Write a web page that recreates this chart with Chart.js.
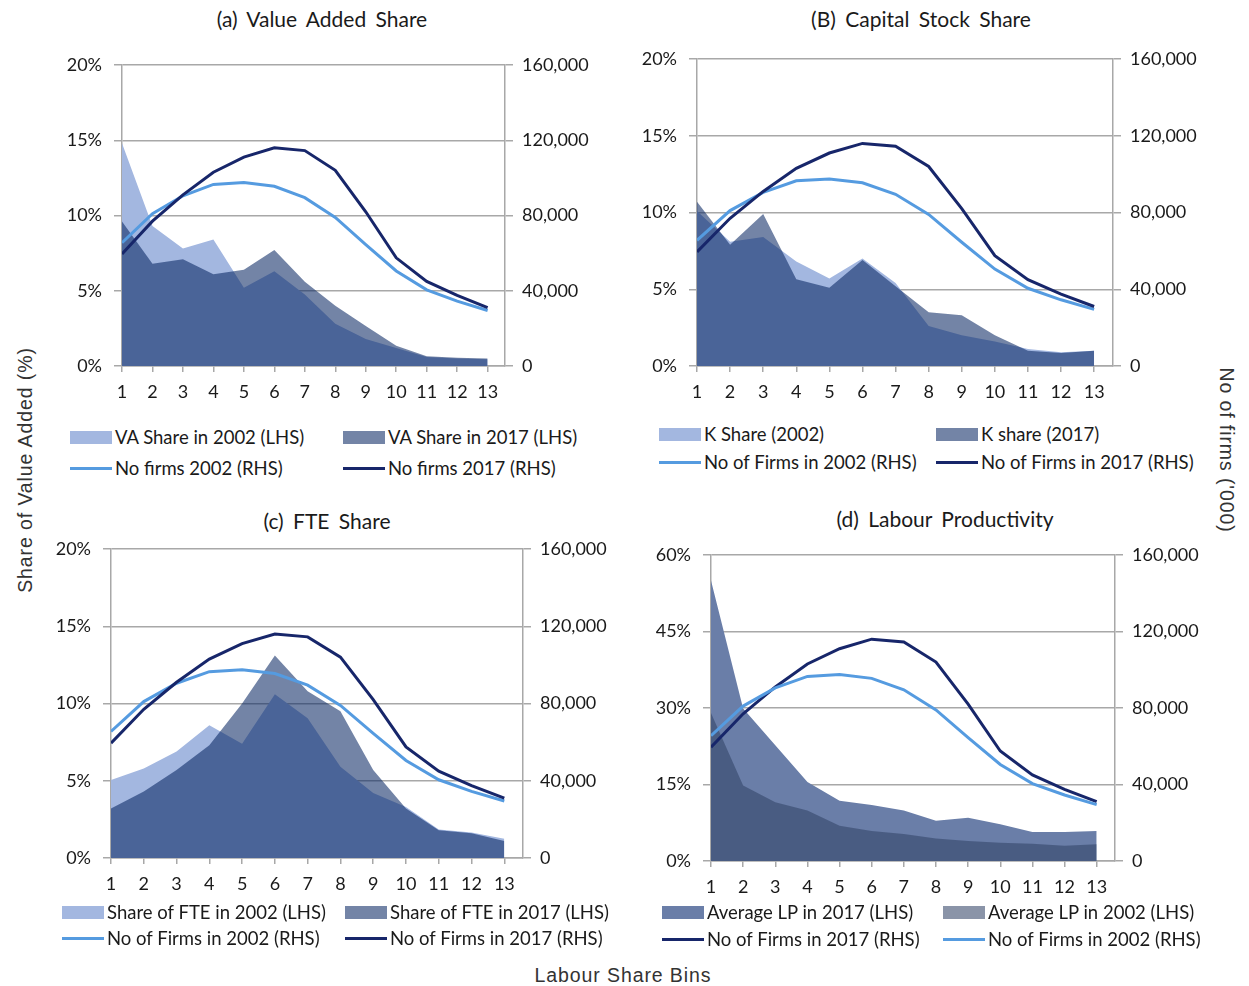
<!DOCTYPE html>
<html>
<head>
<meta charset="utf-8">
<script src="https://cdn.jsdelivr.net/npm/chart.js@4.4.1/dist/chart.umd.min.js"></script>
<style>
  body { margin: 0; background: #fff; }
  #page { position: relative; width: 1249px; height: 986px; overflow: hidden; font-family: Lato, "Open Sans", sans-serif; color: #1a1a1a; }
  .wrap { position: absolute; }
  .title { position: absolute; font-size: 21px; word-spacing: 4px; transform: translate(-50%, -50%); white-space: nowrap; }
  .leg { position: absolute; font-size: 18.5px; white-space: nowrap; transform: translateY(-50%); display: flex; align-items: center; }
  .sw { display: inline-block; width: 42px; margin-right: 3px; }
  .outer { position: absolute; font-family: "Liberation Sans", Arial, sans-serif; font-size: 19.5px; letter-spacing: 0.9px; color: #333; white-space: nowrap; }
</style>
</head>
<body>
<div id="page">
  <div class="outer" style="left:25px; top:470px; transform: translate(-50%,-50%) rotate(-90deg);">Share of Value Added (%)</div>
  <div class="outer" style="left:1226px; top:450px; transform: translate(-50%,-50%) rotate(90deg);">No of firms ('000)</div>
  <div class="outer" style="left:623px; top:975px; transform: translate(-50%,-50%);">Labour Share Bins</div>
</div>
<script>
// Labour share bins
const bins = [1, 2, 3, 4, 5, 6, 7, 8, 9, 10, 11, 12, 13];

// number of firms (RHS), same in every panel
const firms2002 = [65500, 81000, 90500, 96500, 97500, 95500, 89500, 79000, 64500, 50500, 40500, 34500, 29500];
const firms2017 = [59500, 77000, 91000, 103000, 111000, 116000, 114500, 104000, 82000, 57500, 45000, 37500, 31000];

// shares (LHS, %)
const vaShare2002 = [14.8, 9.3, 7.8, 8.4, 5.2, 6.3, 4.75, 2.8, 1.8, 1.2, 0.6, 0.5, 0.45];
const vaShare2017 = [9.6, 6.8, 7.1, 6.1, 6.4, 7.7, 5.6, 4.0, 2.65, 1.35, 0.65, 0.55, 0.5];
const kShare2002 = [10.1, 8.1, 8.4, 6.8, 5.7, 7.0, 5.4, 2.6, 2.0, 1.6, 1.1, 0.9, 1.0];
const kShare2017 = [10.7, 7.9, 9.9, 5.65, 5.1, 6.9, 5.2, 3.5, 3.3, 2.0, 1.0, 0.85, 1.0];
const fteShare2002 = [5.05, 5.8, 6.9, 8.6, 7.4, 10.6, 9.05, 5.9, 4.2, 3.3, 1.85, 1.65, 1.25];
const fteShare2017 = [3.2, 4.3, 5.7, 7.3, 10.0, 13.1, 10.8, 9.5, 5.7, 3.2, 1.8, 1.6, 1.1];
const lp2017 = [55, 29.9, 22.7, 15.5, 11.8, 11.0, 9.9, 7.9, 8.5, 7.2, 5.7, 5.7, 5.9];
const lp2002 = [29, 14.8, 11.5, 9.9, 6.9, 5.9, 5.3, 4.4, 3.9, 3.6, 3.4, 3.0, 3.3];

// tick values
const shareTicks = [0, 5, 10, 15, 20];
const lpTicks = [0, 15, 30, 45, 60];
const firmTicks = [0, 40000, 80000, 120000, 160000];

const LIGHT_AREA = '#a3b7e0';
const DARK_AREA = 'rgba(5,36,96,0.56)';
const LP17_AREA = '#6a7ea8';
const LP02_AREA = 'rgba(49,67,102,0.57)';
const LINE02 = '#559be0';
const LINE17 = '#17266a';
const GRID = '#a8a8a8';

const panels = [
  { title: '(a) Value Added Share', tpos: [322, 18], area: { L: 122, R: 505, T: 65, B: 366 },
    lhsTicks: shareTicks, legend: [70, 343, 437, 468],
    bottom: { label: 'VA Share in 2002 (LHS)', data: vaShare2002, color: LIGHT_AREA },
    top: { label: 'VA Share in 2017 (LHS)', data: vaShare2017, color: DARK_AREA },
    lineA: { label: 'No firms 2002 (RHS)', data: firms2002, color: LINE02 },
    lineB: { label: 'No firms 2017 (RHS)', data: firms2017, color: LINE17 } },
  { title: '(B) Capital Stock Share', tpos: [921, 18], area: { L: 697, R: 1113, T: 59, B: 366 },
    lhsTicks: shareTicks, legend: [659, 936, 434, 462],
    bottom: { label: 'K Share (2002)', data: kShare2002, color: LIGHT_AREA },
    top: { label: 'K share (2017)', data: kShare2017, color: DARK_AREA },
    lineA: { label: 'No of Firms in 2002 (RHS)', data: firms2002, color: LINE02 },
    lineB: { label: 'No of Firms in 2017 (RHS)', data: firms2017, color: LINE17 } },
  { title: '(c) FTE Share', tpos: [327, 520], area: { L: 111, R: 523, T: 549, B: 858 },
    lhsTicks: shareTicks, legend: [62, 345, 912, 938],
    bottom: { label: 'Share of FTE in 2002 (LHS)', data: fteShare2002, color: LIGHT_AREA },
    top: { label: 'Share of FTE in 2017 (LHS)', data: fteShare2017, color: DARK_AREA },
    lineA: { label: 'No of Firms in 2002 (RHS)', data: firms2002, color: LINE02 },
    lineB: { label: 'No of Firms in 2017 (RHS)', data: firms2017, color: LINE17 } },
  { title: '(d) Labour Productivity', tpos: [945, 518], area: { L: 711, R: 1115, T: 555, B: 861 },
    lhsTicks: lpTicks, legend: [662, 943, 912, 939],
    bottom: { label: 'Average LP in 2017 (LHS)', data: lp2017, color: LP17_AREA },
    top: { label: 'Average LP in 2002 (LHS)', data: lp2002, color: LP02_AREA },
    lineA: { label: 'No of Firms in 2017 (RHS)', data: firms2017, color: LINE17 },
    lineB: { label: 'No of Firms in 2002 (RHS)', data: firms2002, color: LINE02 } }
];

const page = document.getElementById('page');
const fontTicks = { family: 'Lato, "Open Sans", sans-serif', size: 18 };
const LW = 80, RW = 100, PT = 15, XH = 45;

function pts(arr) {
  return bins.map((b, i) => ({ x: b, y: arr[i] }));
}

function addLegendItem(x, y, item, isLine) {
  const d = document.createElement('div');
  d.className = 'leg';
  d.style.left = x + 'px';
  d.style.top = y + 'px';
  const sw = document.createElement('span');
  sw.className = 'sw';
  sw.style.height = isLine ? '3px' : '13px';
  sw.style.background = item.color;
  d.appendChild(sw);
  d.appendChild(document.createTextNode(item.label));
  page.appendChild(d);
}

// keep the plot box where we put it: drop the label overflow padding
function fixY(w) {
  return s => { s.width = w; s.paddingTop = 0; s.paddingBottom = 0; };
}

panels.forEach(p => {
  const a = p.area;
  const wrap = document.createElement('div');
  wrap.className = 'wrap';
  wrap.style.left = (a.L - LW) + 'px';
  wrap.style.top = (a.T - PT) + 'px';
  wrap.style.width = (a.R - a.L + LW + RW) + 'px';
  wrap.style.height = (a.B - a.T + PT + XH) + 'px';
  const cv = document.createElement('canvas');
  wrap.appendChild(cv);
  page.appendChild(wrap);

  const t = document.createElement('div');
  t.className = 'title';
  t.style.left = p.tpos[0] + 'px';
  t.style.top = p.tpos[1] + 'px';
  t.textContent = p.title;
  page.appendChild(t);

  const lhsMax = p.lhsTicks[p.lhsTicks.length - 1];

  new Chart(cv, {
    type: 'line',
    data: {
      datasets: [
        { label: p.lineB.label, data: pts(p.lineB.data), yAxisID: 'yR', borderColor: p.lineB.color,
          borderWidth: 3, pointRadius: 0, fill: false, order: 0 },
        { label: p.lineA.label, data: pts(p.lineA.data), yAxisID: 'yR', borderColor: p.lineA.color,
          borderWidth: 3, pointRadius: 0, fill: false, order: 1 },
        { label: p.top.label, data: pts(p.top.data), yAxisID: 'yL', backgroundColor: p.top.color,
          borderWidth: 0, pointRadius: 0, fill: 'origin', order: 2 },
        { label: p.bottom.label, data: pts(p.bottom.data), yAxisID: 'yL', backgroundColor: p.bottom.color,
          borderWidth: 0, pointRadius: 0, fill: 'origin', order: 3 }
      ]
    },
    options: {
      responsive: true,
      maintainAspectRatio: false,
      animation: false,
      layout: { padding: { top: PT, left: 0, right: 0, bottom: 0 } },
      plugins: { legend: { display: false }, tooltip: { enabled: false } },
      scales: {
        x: {
          type: 'linear', min: 1, max: 13.57,
          afterBuildTicks: s => { s.ticks = bins.map(v => ({ value: v })); },
          afterFit: s => { s.height = XH; s.paddingLeft = 0; s.paddingRight = 0; },
          grid: { drawOnChartArea: false, drawTicks: true, tickLength: 6, color: GRID, lineWidth: 1.5 },
          border: { color: GRID, width: 1.5 },
          ticks: { font: fontTicks, color: '#1a1a1a', padding: 9, maxRotation: 0, autoSkip: false }
        },
        yL: {
          position: 'left', min: 0, max: lhsMax,
          afterBuildTicks: s => { s.ticks = p.lhsTicks.map(v => ({ value: v })); },
          afterFit: fixY(LW),
          grid: { color: GRID, lineWidth: 1.5, tickLength: 8 },
          border: { color: GRID, width: 1.5 },
          ticks: { font: fontTicks, color: '#1a1a1a', padding: 12, callback: v => v + '%' }
        },
        yR: {
          position: 'right', min: 0, max: 160000,
          afterBuildTicks: s => { s.ticks = firmTicks.map(v => ({ value: v })); },
          afterFit: fixY(RW),
          grid: { drawOnChartArea: false, color: GRID, lineWidth: 1.5, tickLength: 8 },
          border: { color: GRID, width: 1.5 },
          ticks: { font: fontTicks, color: '#1a1a1a', padding: 9, callback: v => v.toLocaleString('en-US') }
        }
      }
    }
  });

  const [x1, x2, y1, y2] = p.legend;
  addLegendItem(x1, y1, p.bottom, false);
  addLegendItem(x2, y1, p.top, false);
  addLegendItem(x1, y2, p.lineA, true);
  addLegendItem(x2, y2, p.lineB, true);
});
</script>
</body>
</html>
